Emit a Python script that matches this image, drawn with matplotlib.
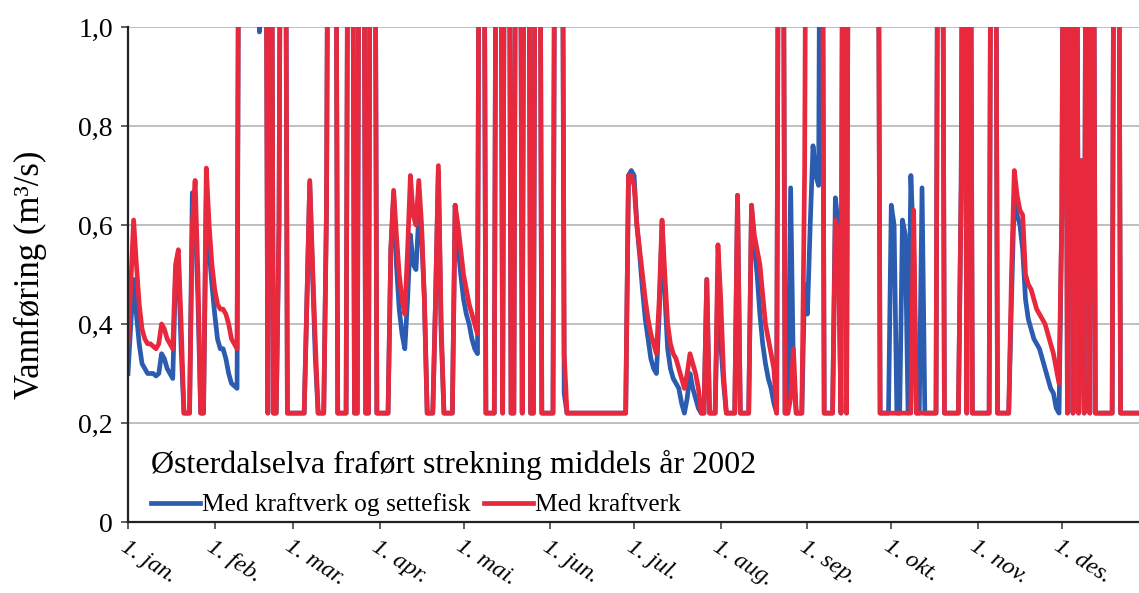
import numpy as np
import pandas as pd
import matplotlib
matplotlib.use("Agg")
import matplotlib.pyplot as plt

plt.rcParams["font.family"] = ["Liberation Serif", "DejaVu Serif"]

dates = pd.date_range("2002-01-01", "2002-12-31", freq="D")

# daily flow (m3/s); 2.0 = flood days, runs off the top of the axis
med_kraftverk = (
    [0.36, 0.48, 0.61, 0.52, 0.44, 0.39, 0.37, 0.36, 0.36, 0.355, 0.35, 0.36, 0.40, 0.39, 0.37, 0.36,
     0.35, 0.52, 0.55, 0.40, 0.22, 0.22, 0.22, 0.60, 0.69, 0.50, 0.22, 0.22, 0.715, 0.60, 0.52]  # jan
    + [0.47, 0.44, 0.43, 0.43, 0.42, 0.40, 0.37, 0.36, 0.35, 2, 2, 2, 2, 2, 2, 2, 2, 2, 2,
       0.22, 2, 0.22, 0.22, 0.60, 2, 2, 0.22, 0.22]  # feb
    + [0.22, 0.22, 0.22, 0.22, 0.22, 0.45, 0.69, 0.52, 0.36, 0.22, 0.22, 0.22, 0.64, 2, 2, 2,
       0.22, 0.22, 0.22, 0.22, 2, 2, 0.22, 0.22, 2, 2, 0.22, 0.22, 2, 2, 0.22]  # mar
    + [0.22, 0.22, 0.22, 0.22, 0.55, 0.67, 0.58, 0.50, 0.45, 0.42, 0.55, 0.70, 0.62, 0.60, 0.69,
       0.60, 0.45, 0.22, 0.22, 0.22, 0.45, 0.72, 0.40, 0.22, 0.22, 0.22, 0.22, 0.64, 0.60, 0.55]  # apr
    + [0.50, 0.47, 0.44, 0.42, 0.40, 0.38, 2, 2, 0.22, 0.22, 0.22, 0.22, 2, 2, 0.22, 2, 2,
       0.22, 0.22, 2, 2, 0.22, 2, 2, 0.22, 0.22, 2, 2, 0.22, 0.22, 0.22]  # mai
    + [0.22, 0.22, 2, 2, 2, 0.34, 0.22, 0.22, 0.22, 0.22, 0.22, 0.22, 0.22, 0.22, 0.22, 0.22,
       0.22, 0.22, 0.22, 0.22, 0.22, 0.22, 0.22, 0.22, 0.22, 0.22, 0.22, 0.22, 0.70, 0.70]  # jun
    + [0.68, 0.60, 0.55, 0.50, 0.45, 0.41, 0.38, 0.36, 0.34, 0.45, 0.61, 0.50, 0.40, 0.36, 0.34,
       0.33, 0.31, 0.29, 0.27, 0.30, 0.34, 0.32, 0.30, 0.27, 0.22, 0.22, 0.49, 0.22, 0.22, 0.22, 0.56]  # jul
    + [0.45, 0.30, 0.22, 0.22, 0.22, 0.22, 0.66, 0.22, 0.22, 0.22, 0.22, 0.64, 0.58, 0.55, 0.52,
       0.46, 0.40, 0.37, 0.34, 0.31, 0.22, 2, 2, 0.22, 0.22, 0.25, 0.35, 0.22, 0.22, 0.22, 0.71]  # aug
    + [2, 2, 2, 2, 2, 2, 0.22, 0.22, 0.22, 0.22, 0.61, 0.58, 0.22, 2, 0.22, 2, 2, 2, 2, 2, 2, 2,
       2, 2, 2, 2, 0.22, 0.22, 0.22, 0.22]  # sep
    + [0.22, 0.22, 0.22, 0.22, 0.22, 0.22, 0.22, 0.22, 0.63, 0.22, 0.22, 0.22, 0.22, 0.22, 0.22,
       0.22, 0.22, 2, 2, 0.22, 0.22, 0.22, 0.22, 0.22, 0.22, 0.68, 2, 0.22, 2, 0.22, 0.22]  # okt
    + [0.22, 0.22, 0.22, 0.22, 0.22, 2, 2, 0.22, 0.22, 0.22, 0.22, 0.22, 0.50, 0.71, 0.66, 0.63,
       0.62, 0.50, 0.48, 0.47, 0.45, 0.43, 0.42, 0.41, 0.40, 0.38, 0.36, 0.34, 0.31, 0.28]  # nov
    + [0.62, 2, 0.22, 2, 0.22, 2, 0.22, 0.73, 0.22, 2, 0.22, 2, 0.22, 0.22, 0.22, 0.22, 0.22,
       0.22, 0.22, 2, 2, 0.22, 0.22, 0.22, 0.22, 0.22, 0.22, 0.22, 0.22, 0.22, 0.22]  # des
)

med_settefisk = (
    [0.30, 0.40, 0.49, 0.42, 0.36, 0.32, 0.31, 0.30, 0.30, 0.30, 0.295, 0.30, 0.34, 0.33, 0.31, 0.30,
     0.29, 0.50, 0.53, 0.35, 0.22, 0.22, 0.22, 0.665, 0.62, 0.45, 0.22, 0.22, 0.66, 0.55, 0.48]  # jan
    + [0.42, 0.37, 0.35, 0.35, 0.33, 0.30, 0.28, 0.275, 0.27, 2, 2, 2, 2, 2, 2, 2, 0.99, 2, 2,
       0.22, 2, 0.22, 0.22, 0.60, 2, 2, 0.22, 0.22]  # feb
    + [0.22, 0.22, 0.22, 0.22, 0.22, 0.45, 0.685, 0.50, 0.33, 0.22, 0.22, 0.22, 0.64, 2, 2, 2,
       0.22, 0.22, 0.22, 0.22, 2, 2, 0.22, 0.22, 2, 2, 0.22, 0.22, 2, 2, 0.22]  # mar
    + [0.22, 0.22, 0.22, 0.22, 0.55, 0.66, 0.52, 0.43, 0.38, 0.35, 0.45, 0.58, 0.52, 0.51, 0.62,
       0.58, 0.45, 0.22, 0.22, 0.22, 0.45, 0.71, 0.38, 0.22, 0.22, 0.22, 0.22, 0.64, 0.56, 0.50]  # apr
    + [0.45, 0.42, 0.40, 0.37, 0.35, 0.34, 2, 2, 0.22, 0.22, 0.22, 0.22, 2, 2, 0.22, 2, 2,
       0.22, 0.22, 2, 2, 0.22, 2, 2, 0.22, 0.22, 2, 2, 0.22, 0.22, 0.22]  # mai
    + [0.22, 0.22, 2, 2, 2, 0.26, 0.22, 0.22, 0.22, 0.22, 0.22, 0.22, 0.22, 0.22, 0.22, 0.22,
       0.22, 0.22, 0.22, 0.22, 0.22, 0.22, 0.22, 0.22, 0.22, 0.22, 0.22, 0.22, 0.70, 0.71]  # jun
    + [0.70, 0.60, 0.54, 0.47, 0.41, 0.37, 0.33, 0.31, 0.30, 0.42, 0.60, 0.46, 0.35, 0.31, 0.29,
       0.28, 0.27, 0.24, 0.22, 0.25, 0.30, 0.27, 0.25, 0.23, 0.22, 0.22, 0.49, 0.22, 0.22, 0.22, 0.50]  # jul
    + [0.36, 0.28, 0.22, 0.22, 0.22, 0.22, 0.66, 0.22, 0.22, 0.22, 0.22, 0.64, 0.56, 0.50, 0.42,
       0.36, 0.32, 0.29, 0.27, 0.24, 0.22, 2, 2, 0.22, 0.22, 0.675, 0.30, 0.22, 0.22, 0.22, 0.48]  # aug
    + [0.42, 0.60, 0.76, 0.70, 0.68, 2, 0.22, 0.22, 0.22, 0.22, 0.655, 0.60, 0.22, 2, 0.22, 2, 2, 2,
       2, 2, 2, 2, 2, 2, 2, 2, 0.22, 0.22, 0.22, 0.22]  # sep
    + [0.64, 0.60, 0.22, 0.22, 0.61, 0.58, 0.22, 0.70, 0.55, 0.22, 0.22, 0.675, 0.22, 0.22, 0.22,
       0.22, 0.22, 2, 2, 0.22, 0.22, 0.22, 0.22, 0.22, 0.22, 0.68, 2, 0.22, 2, 0.22, 0.22]  # okt
    + [0.22, 0.22, 0.22, 0.22, 0.22, 2, 2, 0.22, 0.22, 0.22, 0.22, 0.22, 0.45, 0.66, 0.62, 0.60,
       0.55, 0.45, 0.41, 0.39, 0.37, 0.36, 0.35, 0.33, 0.31, 0.29, 0.27, 0.26, 0.23, 0.22]  # nov
    + [0.62, 2, 0.22, 2, 0.22, 2, 0.22, 0.73, 0.22, 2, 0.22, 2, 0.22, 0.22, 0.22, 0.22, 0.22,
       0.22, 0.22, 2, 2, 0.22, 0.22, 0.22, 0.22, 0.22, 0.22, 0.22, 0.22, 0.22, 0.22]  # des
)

month_labels = ["1. jan.", "1. feb.", "1. mar.", "1. apr.", "1. mai.", "1. jun.",
                "1. jul.", "1. aug.", "1. sep.", "1. okt.", "1. nov.", "1. des."]
y_ticks = [0, 0.2, 0.4, 0.6, 0.8, 1.0]
y_labels = ["0", "0,2", "0,4", "0,6", "0,8", "1,0"]

fig = plt.figure(figsize=(11.39, 5.93), dpi=100)
ax = fig.add_axes([0.1124, 0.1197, 0.8876, 0.8348])

ax.plot(dates, med_settefisk, color="#2b5cb0", lw=3.4, label="Med kraftverk og settefisk")
ax.plot(dates, med_kraftverk, color="#e8283c", lw=3.4, label="Med kraftverk")

ax.set_ylim(0, 1.0)
ax.set_xlim(dates[0], dates[0] + pd.Timedelta(days=361.6))

ax.set_yticks(y_ticks, y_labels, fontsize=20)
month_starts = pd.date_range("2002-01-01", periods=12, freq="MS")
ax.set_xticks(month_starts, month_labels, rotation=-33, ha="left",
              rotation_mode="anchor", fontstyle="italic", fontsize=17.5)
ax.tick_params(axis="both", direction="out", length=5, width=1.2, color="#444444")
ax.tick_params(axis="x", pad=5)
ax.tick_params(axis="y", pad=6)

ax.yaxis.grid(True, color="#b4b4b4", lw=1.2)
ax.set_axisbelow(True)
for side in ["top", "right"]:
    ax.spines[side].set_visible(False)
for side in ["left", "bottom"]:
    ax.spines[side].set_linewidth(1.6)
    ax.spines[side].set_color("#222222")

ax.set_ylabel("Vannføring (m³/s)", fontsize=25)
ax.yaxis.set_label_coords(-0.08, 0.5)

ax.legend(loc="lower left", bbox_to_anchor=(0.0, -0.035), ncol=2, frameon=False,
          title="Østerdalselva fraført strekning middels år 2002", title_fontsize=23,
          fontsize=18.3, handlelength=1.95, handletextpad=0.08, columnspacing=0.5,
          alignment="left", labelspacing=0.55)

fig.savefig("out.png", dpi=100)
